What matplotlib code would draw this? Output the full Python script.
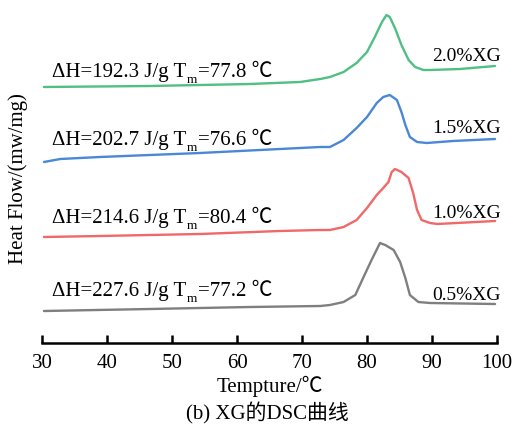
import matplotlib
matplotlib.use("Agg")
import matplotlib.pyplot as plt

# Temperature (°C) and heat flow (arbitrary, stacked)
t_20 = [30.3, 46.6, 62.0, 69.7, 72.8, 74.3, 76.4, 78.4, 80.0, 81.2, 82.3, 83.0, 83.5, 84.3, 85.3, 86.4, 87.4, 88.7, 89.7, 94.3, 99.7]
h_20 = [256, 257, 259, 261, 264, 266, 271, 280, 291, 306, 321, 328, 326, 315, 298, 283, 276, 273, 273, 274, 277]

t_15 = [30.3, 32.8, 38.9, 54.3, 66.6, 72.8, 74.3, 76.4, 78.4, 80.0, 81.5, 82.5, 83.5, 84.6, 85.3, 85.9, 86.6, 87.7, 89.2, 93.2, 99.7]
h_15 = [181, 184, 186, 190, 194, 196, 196, 203, 215, 226, 240, 246, 248, 243, 231, 218, 206, 201, 200, 202, 204]

t_10 = [30.3, 38.9, 54.3, 66.6, 72.8, 74.3, 76.4, 78.4, 80.0, 81.5, 82.5, 83.3, 83.8, 84.3, 85.3, 86.4, 87.1, 87.7, 88.4, 89.7, 90.8, 99.7]
h_10 = [106, 107, 109, 112, 113, 113, 116, 123, 135, 148, 155, 161, 171, 174, 171, 165, 150, 133, 123, 120, 119, 122]

t_05 = [30.3, 46.6, 62.0, 72.8, 74.3, 76.4, 78.2, 79.4, 80.7, 82.0, 82.8, 84.1, 85.1, 85.9, 86.6, 87.9, 89.7, 99.7]
h_05 = [32, 34, 36, 37, 38, 41, 48, 65, 83, 100, 98, 93, 81, 65, 48, 41, 40, 39]

series_labels = ["2.0%XG", "1.5%XG", "1.0%XG", "0.5%XG"]
dH = ["192.3", "202.7", "214.6", "227.6"]
Tm = ["77.8", "76.6", "80.4", "77.2"]
colors = ["#4fbf83", "#4a88d6", "#f06868", "#7f7f7f"]
xticks = [30, 40, 50, 60, 70, 80, 90, 100]

SERIF = ["Liberation Serif", "Noto Sans CJK SC", "DejaVu Sans"]

fig = plt.figure(figsize=(5.21, 4.28), dpi=100)
ax = fig.add_axes([42 / 521, 85 / 428, 455 / 521, 343 / 428])
ax.set_xlim(30, 100)
ax.set_ylim(0, 343)

curves = [(t_20, h_20), (t_15, h_15), (t_10, h_10), (t_05, h_05)]
for (t, h), c in zip(curves, colors):
    ax.plot(t, h, color=c, lw=1.7, solid_capstyle="round", solid_joinstyle="round")

# annotation baselines (data units) and label baselines
ann_base = [266, 198, 120, 47]
lab_base = [282, 210, 125, 43]
for i in range(4):
    t1 = ax.text(31.5, ann_base[i], f"ΔH={dH[i]} J/g T", family=SERIF, fontsize=15,
                 va="baseline", ha="left")
    sub = ax.annotate("m", xy=(1, ann_base[i]), xycoords=(t1, "data"),
                      xytext=(0.5, -4), textcoords="offset points",
                      family=SERIF, fontsize=9.5, va="baseline", ha="left")
    ax.annotate(f"={Tm[i]} ℃", xy=(1, ann_base[i]), xycoords=(sub, "data"),
                xytext=(0.5, 0), textcoords="offset points",
                family=SERIF, fontsize=15, va="baseline", ha="left")
    ax.text(90.0, lab_base[i], series_labels[i], family=SERIF, fontsize=14,
            va="baseline", ha="left")

for s in ["left", "right", "top"]:
    ax.spines[s].set_visible(False)
ax.spines["bottom"].set_linewidth(1.8)
ax.set_yticks([])
ax.set_xticks(xticks)
ax.set_xticklabels([str(v) for v in xticks], family=SERIF, fontsize=15)
ax.tick_params(axis="x", direction="in", length=6, width=1.8, pad=8)

ax.set_xlabel("Tempture/℃", family=SERIF, fontsize=15, labelpad=2)
ax.set_ylabel("Heat Flow/(mw/mg)", family=SERIF, fontsize=15)
ax.yaxis.set_label_coords(-0.03, 0.48)
fig.text(267 / 521, 1 - 413 / 428, "(b) XG的DSC曲线", family=SERIF, fontsize=15,
         ha="center", va="center")

fig.savefig("out.png", dpi=100)
